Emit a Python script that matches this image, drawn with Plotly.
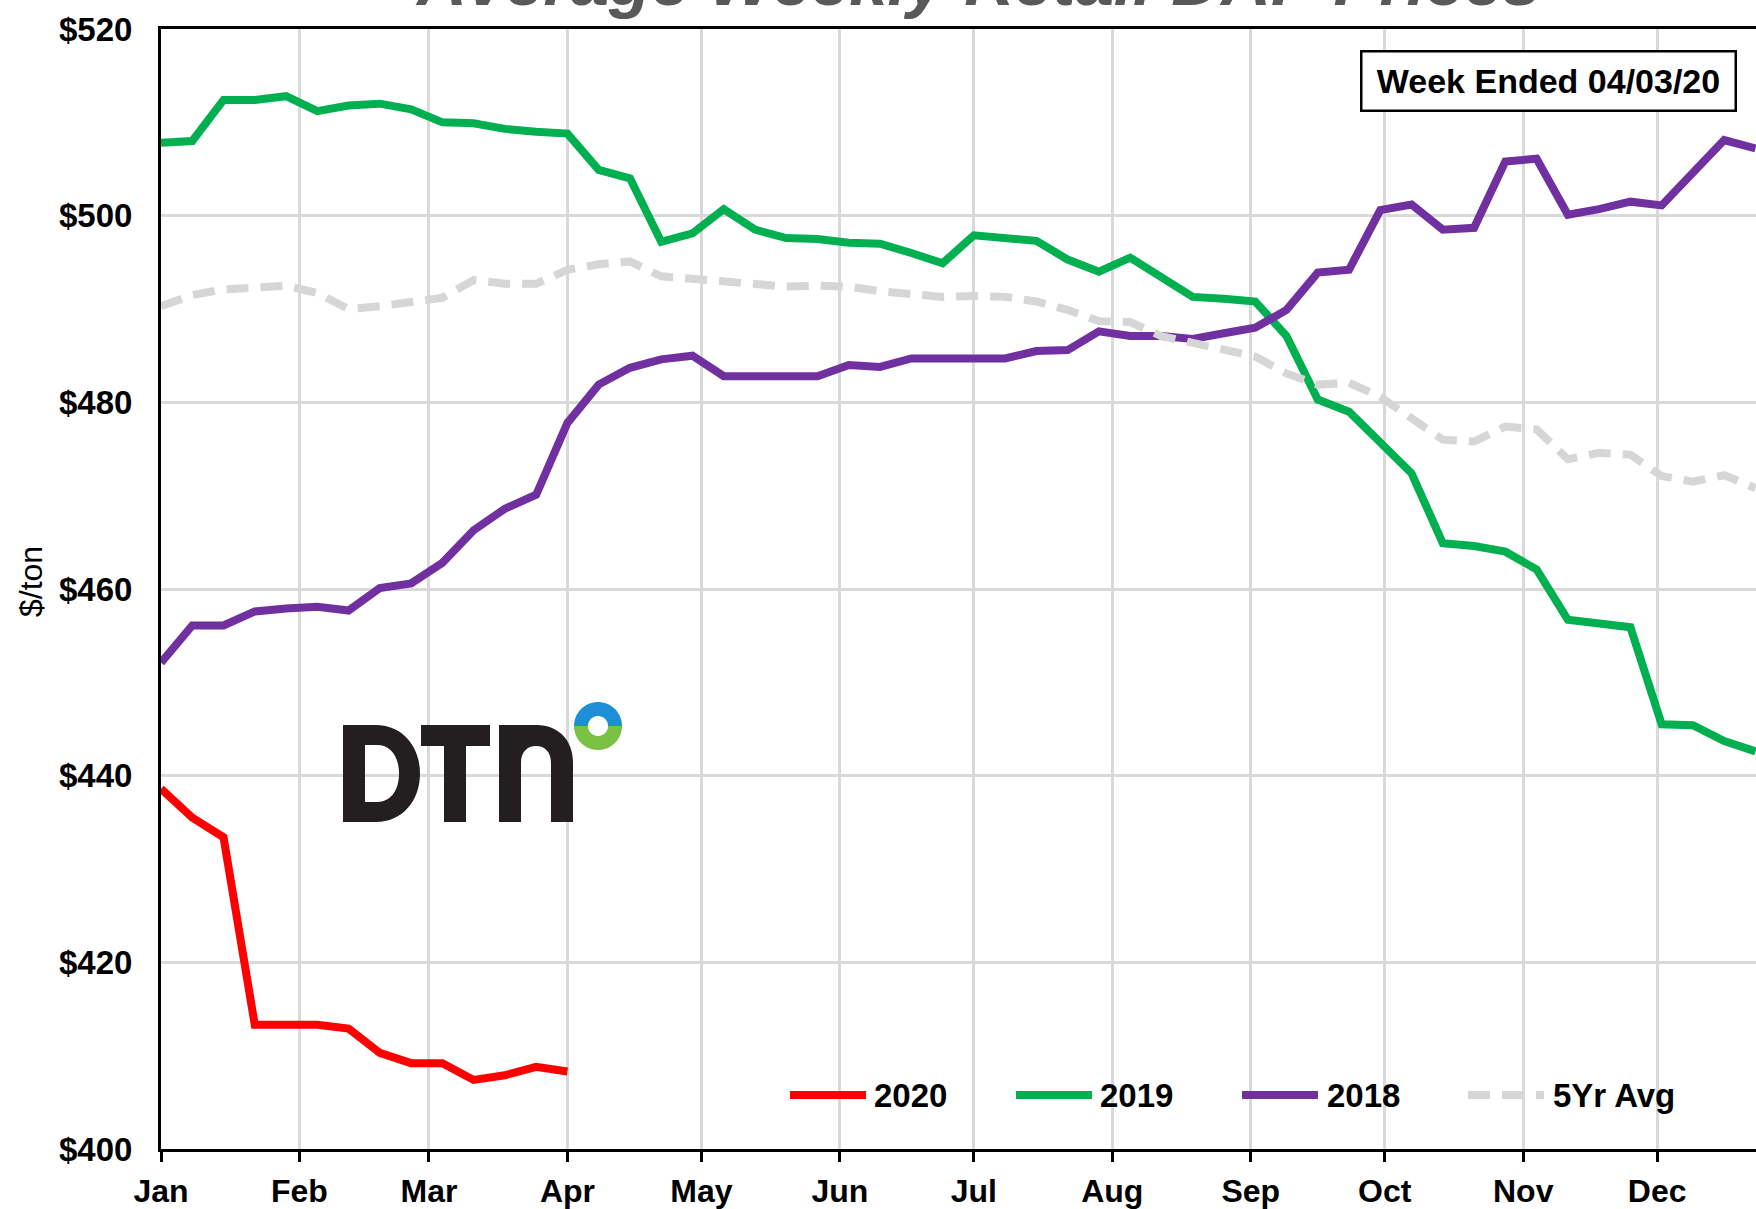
import numpy as np
import pandas as pd
import plotly.graph_objects as go

# ---------------- data ----------------
week_start = "2020-01-01"
n_weeks = 52
weeks = pd.date_range(week_start, periods=n_weeks, freq="7D")

price_2020 = [438.6, 435.5, 433.4, 413.3, 413.3, 413.3, 412.9, 410.3, 409.2, 409.2,
              407.4, 407.9, 408.8, 408.3]

price_2019 = [507.8, 508.0, 512.4, 512.4, 512.8, 511.2, 511.8, 512.0, 511.4, 510.0,
              509.9, 509.3, 509.0, 508.8, 504.9, 504.0, 497.2, 498.1, 500.7, 498.5,
              497.6, 497.5, 497.1, 497.0, 496.0, 494.9, 497.9, 497.6, 497.3, 495.3,
              494.0, 495.5, 493.3, 491.3, 491.1, 490.8, 487.1, 480.3, 479.0, 475.6,
              472.4, 464.9, 464.6, 464.0, 462.1, 456.7, 456.4, 455.9, 445.5, 445.4,
              443.7, 442.6]

price_2018 = [452.1, 456.1, 456.1, 457.6, 457.9, 458.1, 457.7, 460.1, 460.6, 462.8,
              466.3, 468.6, 470.1, 477.8, 481.9, 483.7, 484.6, 485.0, 482.8, 482.8,
              482.8, 482.8, 484.0, 483.8, 484.7, 484.7, 484.7, 484.7, 485.5, 485.6,
              487.6, 487.1, 487.1, 486.8, 487.4, 488.0, 489.9, 493.9, 494.2, 500.6,
              501.2, 498.5, 498.7, 505.8, 506.1, 500.1, 500.7, 501.5, 501.1, 504.7,
              508.1, 507.2]

price_5yr = [490.3, 491.5, 492.1, 492.2, 492.5, 491.7, 490.0, 490.3, 490.8, 491.2,
             493.1, 492.7, 492.7, 494.2, 494.8, 495.1, 493.5, 493.2, 493.0, 492.7,
             492.4, 492.5, 492.4, 491.9, 491.5, 491.3, 491.4, 491.3, 490.8, 489.9,
             488.7, 488.6, 487.1, 486.4, 485.6, 484.9, 483.1, 481.9, 482.1, 480.6,
             478.3, 476.0, 475.8, 477.4, 477.1, 473.9, 474.6, 474.4, 472.1, 471.5,
             472.2, 470.8]

series_names = ["2020", "2019", "2018", "5Yr Avg"]
series_values = [price_2020, price_2019, price_2018, price_5yr]

month_ticks = ["2020-%02d-01" % m for m in range(1, 13)]
month_labels = ["Jan", "Feb", "Mar", "Apr", "May", "Jun",
                "Jul", "Aug", "Sep", "Oct", "Nov", "Dec"]
y_ticks = [400, 420, 440, 460, 480, 500, 520]
y_labels = ["$400", "$420", "$440", "$460", "$480", "$500", "$520"]

title_text = "Average Weekly Retail DAP Prices"
week_label = "Week Ended 04/03/20"
y_title = "$/ton"

# ---------------- styles ----------------
colors = ["#FF0000", "#00B050", "#7030A0", "#D6D6D6"]
dashes = ["solid", "solid", "solid", "22px,12px"]
FONT = "Liberation Sans, Arial, sans-serif"

W_PX, H_PX = 1756, 1209
L, T, B = 161, 29, 60
PW, PH = W_PX - L, H_PX - T - B


def px(x):
    return (x - L) / PW


def py(y):
    return (T + PH - y) / PH


def P(x, y):
    return "%.5f,%.5f" % (px(x), py(y))


fig = go.Figure()
for name, vals, col, dsh in zip(series_names, series_values, colors, dashes):
    fig.add_trace(go.Scatter(
        x=weeks[:len(vals)], y=vals, mode="lines", name=name,
        line=dict(color=col, width=8, dash=dsh), showlegend=False,
    ))

fig.update_layout(
    width=W_PX, height=H_PX,
    margin=dict(l=L, r=0, t=T, b=B, pad=0),
    paper_bgcolor="white", plot_bgcolor="white",
    font=dict(family=FONT, size=33, color="black"),
    showlegend=False,
)

fig.update_xaxes(
    type="date",
    range=["2020-01-01", "2020-12-23 03:00"],
    tickvals=month_ticks, ticktext=month_labels,
    showgrid=True, gridcolor="#D9D9D9", gridwidth=2.5,
    showline=True, linecolor="black", linewidth=3, mirror=True,
    ticks="outside", ticklen=10, tickwidth=3, tickcolor="black",
    tickfont=dict(family=FONT, size=32, color="black", weight="bold"),
    ticklabelstandoff=2,
    zeroline=False,
)
fig.update_yaxes(
    range=[400, 520], tickvals=y_ticks, ticktext=y_labels,
    showgrid=True, gridcolor="#D9D9D9", gridwidth=2.5,
    showline=True, linecolor="black", linewidth=3,
    ticks="", tickfont=dict(family=FONT, size=33, color="black", weight="bold"),
    ticklabelstandoff=19,
    zeroline=False,
)

annotations = []
shapes = []

# title (partly cut off at top, as in the reference)
annotations.append(dict(
    text=title_text, xref="paper", yref="paper", x=px(978), y=1,
    xanchor="center", yanchor="bottom", yshift=7, showarrow=False,
    font=dict(family=FONT, size=69, color="#595959", weight="bold", style="italic"),
))

# y axis title
annotations.append(dict(
    text=y_title, xref="paper", yref="paper", x=px(31), y=py(582),
    xanchor="center", yanchor="middle", textangle=-90, showarrow=False,
    font=dict(family=FONT, size=32, color="black"),
))

# week ended box
annotations.append(dict(
    text=week_label, xref="paper", yref="paper", x=px(1548), y=py(81),
    xanchor="center", yanchor="middle", showarrow=False,
    font=dict(family=FONT, size=34, color="black", weight="bold"),
    bordercolor="black", borderwidth=2.5, borderpad=0, bgcolor="white",
    width=372, height=57,
))

# custom legend
leg_line_x = [(790, 866), (1016, 1092), (1242, 1318), (1468, 1544)]
leg_text_x = [872, 1098, 1325, 1551]
leg_y = 1095
for name, col, dsh, (x0, x1), tx in zip(series_names, colors, dashes, leg_line_x, leg_text_x):
    shapes.append(dict(type="line", xref="paper", yref="paper",
                       x0=px(x0), x1=px(x1), y0=py(leg_y), y1=py(leg_y),
                       line=dict(color=col, width=8, dash=dsh)))
    annotations.append(dict(
        text=name, xref="paper", yref="paper", x=px(tx), y=py(leg_y),
        xanchor="left", yanchor="middle", showarrow=False,
        font=dict(family=FONT, size=33, color="black", weight="bold"),
    ))

# ---------------- DTN logo (drawn as shapes) ----------------
LOGO = "#231F20"
shapes.append(dict(type="rect", xref="paper", yref="paper",
                   x0=px(308), x1=px(646), y0=py(827), y1=py(697),
                   fillcolor="white", line=dict(width=0), layer="between"))
# D
d_path = ("M " + P(343, 725) + " L " + P(376, 725) +
          " C " + P(402, 725) + " " + P(420, 746) + " " + P(420, 773.5) +
          " C " + P(420, 801) + " " + P(402, 822) + " " + P(376, 822) +
          " L " + P(343, 822) + " Z" +
          " M " + P(365, 745) + " L " + P(365, 802) + " L " + P(377, 802) +
          " C " + P(391, 802) + " " + P(399, 790) + " " + P(399, 773.5) +
          " C " + P(399, 757) + " " + P(391, 745) + " " + P(377, 745) + " Z")
# T
t_path = ("M " + P(421, 725) + " L " + P(490, 725) + " L " + P(490, 746) +
          " L " + P(466, 746) + " L " + P(466, 822) + " L " + P(444, 822) +
          " L " + P(444, 746) + " L " + P(421, 746) + " Z")
# n
n_path = ("M " + P(499, 822) + " L " + P(499, 725) + " L " + P(537, 725) +
          " C " + P(558, 725) + " " + P(573, 740) + " " + P(573, 762) +
          " L " + P(573, 822) + " L " + P(551, 822) + " L " + P(551, 763) +
          " C " + P(551, 752) + " " + P(545, 746) + " " + P(536, 746) +
          " C " + P(527, 746) + " " + P(521, 752) + " " + P(521, 763) +
          " L " + P(521, 822) + " Z")
for pth in (d_path, t_path, n_path):
    shapes.append(dict(type="path", xref="paper", yref="paper", path=pth,
                       fillcolor=LOGO, line=dict(width=0), layer="above"))

cx, cy, r_out, r_in = 598, 726, 24, 10
th_top = np.linspace(0, np.pi, 40)
th_bot = np.linspace(np.pi, 2 * np.pi, 40)


def ring_path(th):
    pts_o = [(cx + r_out * np.cos(t), cy - r_out * np.sin(t)) for t in th]
    pts_i = [(cx + r_in * np.cos(t), cy - r_in * np.sin(t)) for t in th[::-1]]
    pts = pts_o + pts_i
    return "M " + " L ".join(P(a, b) for a, b in pts) + " Z"


shapes.append(dict(type="path", xref="paper", yref="paper", path=ring_path(th_top),
                   fillcolor="#1E8ED6", line=dict(width=0), layer="above"))
shapes.append(dict(type="path", xref="paper", yref="paper", path=ring_path(th_bot),
                   fillcolor="#7BC143", line=dict(width=0), layer="above"))

fig.update_layout(annotations=annotations, shapes=shapes)
fig.write_html(
    "out.html",
    config={"displayModeBar": False},
    post_script="document.body.style.margin='0px';document.body.style.overflow='hidden';",
)
